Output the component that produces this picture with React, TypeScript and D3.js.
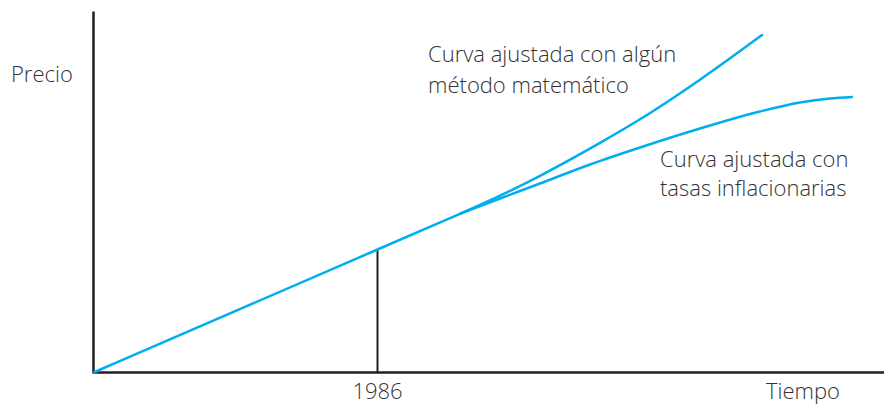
import React from "react";
import * as d3 from "d3";

const sharedT = [0, 35.95, 46.39];
const sharedP = [0, 34.07, 43.96];
const upperT = [46.39, 51.46, 56.52, 64.11, 69.18, 76.77, 84.62];
const upperP = [43.96, 48.98, 54.49, 63.6, 70.14, 81.11, 93.46];
const lowerT = [46.39, 51.46, 56.52, 62.85, 69.18, 76.77, 84.37, 89.43, 93.23, 96.01];
const lowerP = [43.96, 48.2, 52.35, 57.62, 62.33, 67.59, 72.3, 74.79, 75.9, 76.32];
const markerT = 35.95;
const markerP = 34.07;
const xTickLabel = "1986";
const yLabel = "Precio";
const xLabel = "Tiempo";
const upperLabel = ["Curva ajustada con algún", "método matemático"];
const lowerLabel = ["Curva ajustada con", "tasas inflacionarias"];

const W = 884;
const H = 405;
const x0 = 93.5;
const y0 = 372.5;

export default function App() {
  const x = d3.scaleLinear().domain([0, 100]).range([x0, x0 + 790]);
  const y = d3.scaleLinear().domain([0, 100]).range([y0, y0 - 361]);
  const line = d3
    .line<[number, number]>()
    .x((d) => x(d[0]))
    .y((d) => y(d[1]))
    .curve(d3.curveMonotoneX);
  const shared = sharedT.map((t, i) => [t, sharedP[i]] as [number, number]);
  const upper = upperT.map((t, i) => [t, upperP[i]] as [number, number]);
  const lower = lowerT.map((t, i) => [t, lowerP[i]] as [number, number]);
  const blue = "#00AEEF";
  const axisC = "#231F20";
  const font = { fontFamily: "'Open Sans', 'Noto Sans', sans-serif", fontWeight: 300, fontSize: 22, fill: "#333" } as const;
  return (
    <svg width={W} height={H} style={{ position: "absolute", left: 0, top: 0, background: "#fff" }}>
      <line x1={x0} y1={11.5} x2={x0} y2={y0} stroke={axisC} strokeWidth={2.5} />
      <line x1={x0 - 1} y1={y0} x2={W} y2={y0} stroke={axisC} strokeWidth={2.5} />
      <line x1={x(markerT)} y1={y(markerP)} x2={x(markerT)} y2={y0} stroke={axisC} strokeWidth={2} />
      <path d={line(shared) || ""} fill="none" stroke={blue} strokeWidth={2.5} />
      <path d={line(upper) || ""} fill="none" stroke={blue} strokeWidth={2.5} strokeLinecap="round" />
      <path d={line(lower) || ""} fill="none" stroke={blue} strokeWidth={2.5} strokeLinecap="round" />
      <text x={11} y={82} {...font}>{yLabel}</text>
      <text x={x(markerT)} y={399} textAnchor="middle" {...font}>{xTickLabel}</text>
      <text x={840} y={399} textAnchor="end" {...font}>{xLabel}</text>
      {upperLabel.map((s, i) => (
        <text key={s} x={428} y={62 + i * 31} {...font}>{s}</text>
      ))}
      {lowerLabel.map((s, i) => (
        <text key={s} x={660} y={167 + i * 29} {...font}>{s}</text>
      ))}
    </svg>
  );
}
